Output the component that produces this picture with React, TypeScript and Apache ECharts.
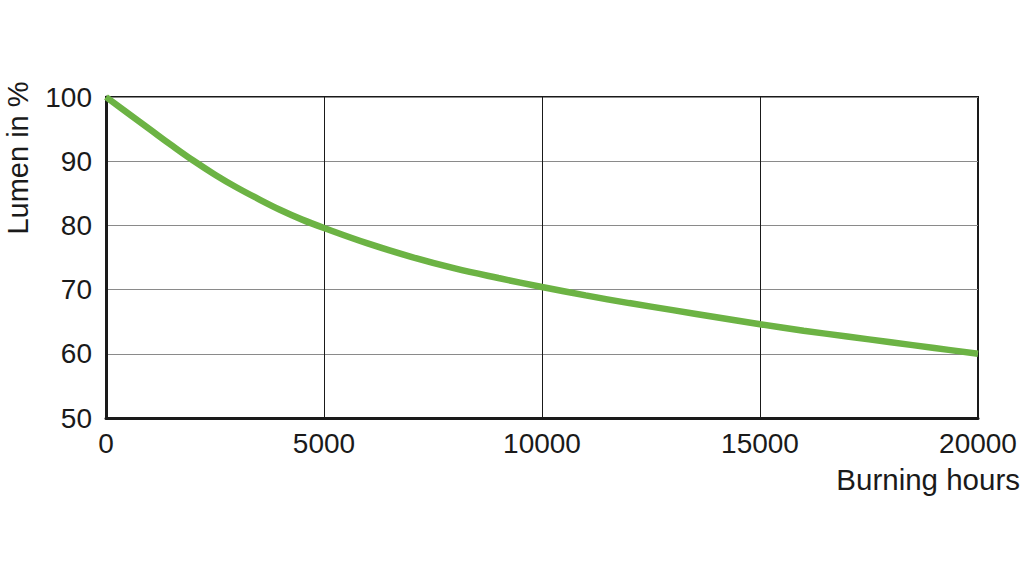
import React, { useEffect, useRef } from "react";
import * as echarts from "echarts";

const hours = [0, 500, 1000, 1500, 2000, 2500, 3000, 3500, 4000, 4500, 5000, 6000, 7000, 8000, 9000, 10000, 11000, 12000, 13000, 14000, 15000, 16000, 17000, 18000, 19000, 20000];
const lumen = [100, 97.5, 95.0, 92.5, 90.1, 87.9, 85.9, 84.1, 82.4, 80.9, 79.6, 77.2, 75.1, 73.3, 71.8, 70.4, 69.1, 67.9, 66.8, 65.7, 64.6, 63.6, 62.7, 61.8, 60.9, 60.0];
const xTitle = "Burning hours";
const yTitle = "Lumen in %";

export default function App() {
  const ref = useRef<HTMLDivElement>(null);
  useEffect(() => {
    const chart = echarts.init(ref.current!, null, { renderer: "svg" });
    const font = "Liberation Sans, Arial, sans-serif";
    chart.setOption({
      animation: false,
      backgroundColor: "#ffffff",
      grid: { left: 106, right: 46, top: 97, bottom: 159, show: true, borderColor: "#1a1a1a", borderWidth: 2, backgroundColor: "transparent" },
      xAxis: {
        type: "value",
        min: 0,
        max: 20000,
        interval: 5000,
        axisLine: { show: true, lineStyle: { color: "#1a1a1a", width: 3 } },
        axisTick: { show: false },
        axisLabel: { color: "#1a1a1a", fontSize: 28, fontFamily: font, margin: 11, formatter: (v: number) => String(v) },
        splitLine: { show: true, lineStyle: { color: "#1a1a1a", width: 1 } },
      },
      yAxis: {
        type: "value",
        min: 50,
        max: 100,
        interval: 10,
        axisLine: { show: true, lineStyle: { color: "#1a1a1a", width: 3 } },
        axisTick: { show: false },
        axisLabel: { color: "#1a1a1a", fontSize: 28, fontFamily: font, margin: 14, formatter: (v: number) => String(v) },
        splitLine: { show: true, lineStyle: { color: "#8a8a8a", width: 1 } },
      },
      graphic: [
        {
          type: "text",
          x: 18,
          y: 158,
          rotation: Math.PI / 2,
          style: { text: yTitle, fontSize: 29, fontFamily: font, fill: "#1a1a1a", align: "center", verticalAlign: "middle" },
        },
        {
          type: "text",
          x: 1020,
          y: 479,
          style: { text: xTitle, fontSize: 29.5, fontFamily: font, fill: "#1a1a1a", align: "right", verticalAlign: "middle" },
        },
      ],
      series: [
        {
          type: "line",
          data: hours.map((h, i) => [h, lumen[i]]),
          smooth: 0.4,
          showSymbol: false,
          lineStyle: { color: "#6cb344", width: 6.5 },
          z: 5,
        },
      ],
    });
    return () => chart.dispose();
  }, []);
  return <div ref={ref} style={{ position: "fixed", left: 0, top: 0, width: 1024, height: 577 }} />;
}
